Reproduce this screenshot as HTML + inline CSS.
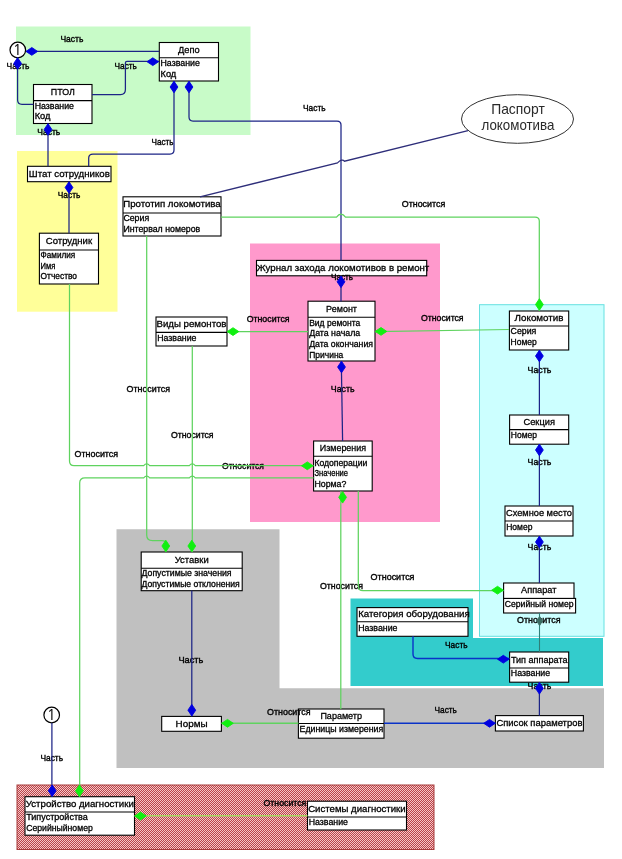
<!DOCTYPE html>
<html lang="ru">
<head>
<meta charset="utf-8">
<title>ER-диаграмма: паспорт локомотива</title>
<style>
html,body{margin:0;padding:0;background:#fff;}
body{width:622px;height:859px;overflow:hidden;}
svg{display:block;will-change:transform;}
svg text{font-family:"Liberation Sans", "DejaVu Sans", sans-serif;fill:#000;stroke:#000;stroke-width:0.3px;}
</style>
</head>
<body>
<svg width="622" height="859" viewBox="0 0 622 859">
<rect width="622" height="859" fill="#fff"/>
<g><defs><pattern id="hatch" width="2" height="2" patternUnits="userSpaceOnUse"><rect width="2" height="2" fill="#b9444a"/><rect x="0" y="0" width="1" height="1" fill="#f6c6c6"/><rect x="1" y="1" width="1" height="1" fill="#f6c6c6"/></pattern></defs>
<rect x="16" y="26.5" width="234.50" height="108.50" fill="#c8fbc8"/>
<rect x="17" y="151" width="100.50" height="160.70" fill="#ffff99"/>
<rect x="250" y="243.5" width="190.00" height="278.50" fill="#ff99cc"/>
<path d="M350.5 598.6H473V638H603V686H350.5Z" fill="#33cccc"/>
<path d="M116.5 529.2H279.5V688.3H604V768H116.5Z" fill="#c0c0c0"/>
<rect x="479.5" y="304.7" width="124.50" height="331.60" fill="#ccffff" stroke="#66e0e0" stroke-width="1"/>
<rect x="17" y="785" width="417.00" height="64.50" fill="url(#hatch)" stroke="#a83a3a" stroke-width="1"/></g>
<g><rect x="159.3" y="42.5" width="59.20" height="38.50" fill="#fff" stroke="#000" stroke-width="1.1"/>
<path d="M159.3 57.8H218.5" stroke="#000" stroke-width="1.1"/>
<text x="178.1" y="52.9" font-size="9.7" textLength="21.6" lengthAdjust="spacingAndGlyphs">Депо</text>
<text x="160.5" y="66.0" font-size="8.6" textLength="39.3" lengthAdjust="spacingAndGlyphs">Название</text>
<text x="160.5" y="76.6" font-size="8.6" textLength="15.8" lengthAdjust="spacingAndGlyphs">Код</text>
<rect x="33.5" y="84.5" width="58.50" height="39.00" fill="#fff" stroke="#000" stroke-width="1.1"/>
<path d="M33.5 100.6H92" stroke="#000" stroke-width="1.1"/>
<text x="50.8" y="95.2" font-size="9.7" textLength="24.0" lengthAdjust="spacingAndGlyphs">ПТОЛ</text>
<text x="34.7" y="108.8" font-size="8.6" textLength="39.3" lengthAdjust="spacingAndGlyphs">Название</text>
<text x="34.7" y="119.4" font-size="8.6" textLength="15.8" lengthAdjust="spacingAndGlyphs">Код</text>
<rect x="27.5" y="166.3" width="83.50" height="15.40" fill="#fff" stroke="#000" stroke-width="1.1"/>
<text x="28.8" y="176.7" font-size="9.7" textLength="81.0" lengthAdjust="spacingAndGlyphs">Штат сотрудников</text>
<rect x="39.4" y="233.2" width="59.10" height="50.80" fill="#fff" stroke="#000" stroke-width="1.1"/>
<path d="M39.4 250H98.5" stroke="#000" stroke-width="1.1"/>
<text x="45.8" y="244.3" font-size="9.7" textLength="46.3" lengthAdjust="spacingAndGlyphs">Сотрудник</text>
<text x="40.6" y="258.2" font-size="8.6" textLength="34.7" lengthAdjust="spacingAndGlyphs">Фамилия</text>
<text x="40.6" y="268.8" font-size="8.6" textLength="14.8" lengthAdjust="spacingAndGlyphs">Имя</text>
<text x="40.6" y="279.4" font-size="8.6" textLength="36.4" lengthAdjust="spacingAndGlyphs">Отчество</text>
<rect x="123" y="196.8" width="98.00" height="39.20" fill="#fff" stroke="#000" stroke-width="1.1"/>
<path d="M123 213H221" stroke="#000" stroke-width="1.1"/>
<text x="123.2" y="206.6" font-size="9.7" textLength="97.5" lengthAdjust="spacingAndGlyphs">Прототип локомотива</text>
<text x="123.4" y="221.2" font-size="8.6" textLength="25.8" lengthAdjust="spacingAndGlyphs">Серия</text>
<text x="123.4" y="231.8" font-size="8.6" textLength="76.8" lengthAdjust="spacingAndGlyphs">Интервал номеров</text>
<rect x="256.5" y="260.4" width="170.20" height="15.40" fill="#fff" stroke="#000" stroke-width="1.1"/>
<text x="256.8" y="270.8" font-size="9.7" textLength="172.5" lengthAdjust="spacingAndGlyphs">Журнал захода локомотивов в ремонт</text>
<rect x="308" y="301.2" width="67.00" height="59.80" fill="#fff" stroke="#000" stroke-width="1.1"/>
<path d="M308 317.2H375" stroke="#000" stroke-width="1.1"/>
<text x="326.1" y="311.5" font-size="9.7" textLength="30.9" lengthAdjust="spacingAndGlyphs">Ремонт</text>
<text x="309.2" y="325.8" font-size="8.6" textLength="51.0" lengthAdjust="spacingAndGlyphs">Вид ремонта</text>
<text x="309.2" y="336.4" font-size="8.6" textLength="51.0" lengthAdjust="spacingAndGlyphs">Дата начала</text>
<text x="309.2" y="347.0" font-size="8.6" textLength="63.8" lengthAdjust="spacingAndGlyphs">Дата окончания</text>
<text x="309.2" y="357.6" font-size="8.6" textLength="34.1" lengthAdjust="spacingAndGlyphs">Причина</text>
<rect x="156" y="317" width="71.00" height="29.00" fill="#fff" stroke="#000" stroke-width="1.1"/>
<path d="M156 332.4H227" stroke="#000" stroke-width="1.1"/>
<text x="156.5" y="327.4" font-size="9.7" textLength="70.0" lengthAdjust="spacingAndGlyphs">Виды ремонтов</text>
<text x="157.2" y="340.6" font-size="8.6" textLength="39.3" lengthAdjust="spacingAndGlyphs">Название</text>
<rect x="509.4" y="311" width="59.30" height="39.00" fill="#fff" stroke="#000" stroke-width="1.1"/>
<path d="M509.4 326H568.7" stroke="#000" stroke-width="1.1"/>
<text x="514.6" y="321.2" font-size="9.7" textLength="48.9" lengthAdjust="spacingAndGlyphs">Локомотив</text>
<text x="510.6" y="334.2" font-size="8.6" textLength="25.8" lengthAdjust="spacingAndGlyphs">Серия</text>
<text x="510.6" y="344.8" font-size="8.6" textLength="26.2" lengthAdjust="spacingAndGlyphs">Номер</text>
<rect x="509.6" y="415" width="59.10" height="29.20" fill="#fff" stroke="#000" stroke-width="1.1"/>
<path d="M509.6 429.6H568.7" stroke="#000" stroke-width="1.1"/>
<text x="523.5" y="425.0" font-size="9.7" textLength="31.4" lengthAdjust="spacingAndGlyphs">Секция</text>
<text x="510.8" y="438.4" font-size="8.6" textLength="26.2" lengthAdjust="spacingAndGlyphs">Номер</text>
<rect x="505" y="506" width="68.00" height="30.00" fill="#fff" stroke="#000" stroke-width="1.1"/>
<path d="M505 521H573" stroke="#000" stroke-width="1.1"/>
<text x="506.0" y="516.2" font-size="9.7" textLength="66.0" lengthAdjust="spacingAndGlyphs">Схемное место</text>
<text x="506.2" y="530.2" font-size="8.6" textLength="26.2" lengthAdjust="spacingAndGlyphs">Номер</text>
<rect x="503.6" y="598.4" width="72" height="14.6" fill="#fff" stroke="#000" stroke-width="1.1"/>
<rect x="503.6" y="583" width="70.40" height="15.40" fill="#fff" stroke="#000" stroke-width="1.1"/>
<text x="521.0" y="593.4" font-size="9.7" textLength="35.5" lengthAdjust="spacingAndGlyphs">Аппарат</text>
<text x="504.8" y="607.2" font-size="8.6" textLength="68.7" lengthAdjust="spacingAndGlyphs">Серийный номер</text>
<rect x="313.6" y="441" width="58.60" height="50.00" fill="#fff" stroke="#000" stroke-width="1.1"/>
<path d="M313.6 456.3H372.2" stroke="#000" stroke-width="1.1"/>
<text x="319.8" y="451.3" font-size="9.7" textLength="46.3" lengthAdjust="spacingAndGlyphs">Измерения</text>
<text x="314.4" y="465.5" font-size="8.6" textLength="53.0" lengthAdjust="spacingAndGlyphs">Кодоперации</text>
<text x="314.4" y="476.1" font-size="8.6" textLength="33.7" lengthAdjust="spacingAndGlyphs">Значение</text>
<text x="314.4" y="486.7" font-size="8.6" textLength="32.0" lengthAdjust="spacingAndGlyphs">Норма?</text>
<rect x="141.2" y="552" width="101.00" height="38.70" fill="#fff" stroke="#000" stroke-width="1.1"/>
<path d="M141.2 568.2H242.2" stroke="#000" stroke-width="1.1"/>
<text x="174.7" y="562.8" font-size="9.7" textLength="34.0" lengthAdjust="spacingAndGlyphs">Уставки</text>
<text x="141.5" y="576.4" font-size="8.6" textLength="90.1" lengthAdjust="spacingAndGlyphs">Допустимые значения</text>
<text x="141.5" y="587.0" font-size="8.6" textLength="98.2" lengthAdjust="spacingAndGlyphs">Допустимые отклонения</text>
<rect x="357" y="607.6" width="111.00" height="28.70" fill="#fff" stroke="#000" stroke-width="1.1"/>
<path d="M357 621.7H468" stroke="#000" stroke-width="1.1"/>
<text x="358.2" y="617.4" font-size="9.7" textLength="111.5" lengthAdjust="spacingAndGlyphs">Категория оборудования</text>
<text x="358.2" y="631.3" font-size="8.6" textLength="39.3" lengthAdjust="spacingAndGlyphs">Название</text>
<rect x="509.6" y="652" width="59.10" height="30.20" fill="#fff" stroke="#000" stroke-width="1.1"/>
<path d="M509.6 668H568.7" stroke="#000" stroke-width="1.1"/>
<text x="510.9" y="662.7" font-size="9.7" textLength="56.6" lengthAdjust="spacingAndGlyphs">Тип аппарата</text>
<text x="510.8" y="676.2" font-size="8.6" textLength="39.3" lengthAdjust="spacingAndGlyphs">Название</text>
<rect x="161.7" y="716.4" width="59.70" height="14.90" fill="#fff" stroke="#000" stroke-width="1.1"/>
<text x="175.6" y="726.5" font-size="9.7" textLength="32.0" lengthAdjust="spacingAndGlyphs">Нормы</text>
<rect x="298.4" y="709" width="85.60" height="29.20" fill="#fff" stroke="#000" stroke-width="1.1"/>
<path d="M298.4 723.5H384" stroke="#000" stroke-width="1.1"/>
<text x="320.4" y="719.0" font-size="9.7" textLength="41.6" lengthAdjust="spacingAndGlyphs">Параметр</text>
<text x="299.6" y="731.7" font-size="8.6" textLength="83.6" lengthAdjust="spacingAndGlyphs">Единицы измерения</text>
<rect x="495.4" y="715.6" width="88.00" height="15.40" fill="#fff" stroke="#000" stroke-width="1.1"/>
<text x="496.4" y="726.0" font-size="9.7" textLength="86.0" lengthAdjust="spacingAndGlyphs">Список параметров</text>
<rect x="25" y="796.7" width="109.50" height="38.50" fill="#fff" stroke="#000" stroke-width="1.1"/>
<path d="M25 812H134.5" stroke="#000" stroke-width="1.1"/>
<text x="25.8" y="807.1" font-size="9.7" textLength="108.0" lengthAdjust="spacingAndGlyphs">Устройство диагностики</text>
<text x="26.2" y="820.2" font-size="8.6" textLength="61.6" lengthAdjust="spacingAndGlyphs">Типустройства</text>
<text x="26.2" y="830.8" font-size="8.6" textLength="66.6" lengthAdjust="spacingAndGlyphs">Серийныйномер</text>
<rect x="307.5" y="801.2" width="99.00" height="28.80" fill="#fff" stroke="#000" stroke-width="1.1"/>
<path d="M307.5 817H406.5" stroke="#000" stroke-width="1.1"/>
<text x="308.2" y="811.8" font-size="9.7" textLength="97.5" lengthAdjust="spacingAndGlyphs">Системы диагностики</text>
<text x="308.7" y="825.2" font-size="8.6" textLength="39.3" lengthAdjust="spacingAndGlyphs">Название</text>
<ellipse cx="517.5" cy="119" rx="56" ry="24.3" fill="#fff" stroke="#333" stroke-width="1"/>
<text x="491.2" y="114.3" font-size="14.5" textLength="53.6" lengthAdjust="spacingAndGlyphs" style="fill:#2a2a2a;stroke:none">Паспорт</text>
<text x="481.5" y="130.4" font-size="14.5" textLength="72.9" lengthAdjust="spacingAndGlyphs" style="fill:#2a2a2a;stroke:none">локомотива</text>
<circle cx="17.8" cy="50" r="7.8" fill="#fff" stroke="#000" stroke-width="1.2"/>
<text x="17.4" y="54.6" font-size="14.5" text-anchor="middle" style="font-family:NanumGothic,'Liberation Sans',sans-serif;stroke-width:0.15px;fill:#000">1</text>
<circle cx="51.7" cy="715" r="7.8" fill="#fff" stroke="#000" stroke-width="1.2"/>
<text x="51.3" y="719.6" font-size="14.5" text-anchor="middle" style="font-family:NanumGothic,'Liberation Sans',sans-serif;stroke-width:0.15px;fill:#000">1</text></g>
<g><text x="60.4" y="41.9" font-size="9.9" font-weight="normal" style="stroke-width:0.4px" textLength="23.0" lengthAdjust="spacingAndGlyphs">Часть</text>
<text x="6.6" y="69.1" font-size="9.9" font-weight="normal" style="stroke-width:0.4px" textLength="22.9" lengthAdjust="spacingAndGlyphs">Часть</text>
<text x="114.5" y="68.9" font-size="9.9" font-weight="normal" style="stroke-width:0.4px" textLength="22.4" lengthAdjust="spacingAndGlyphs">Часть</text>
<text x="151.6" y="144.5" font-size="9.9" font-weight="normal" style="stroke-width:0.4px" textLength="22.0" lengthAdjust="spacingAndGlyphs">Часть</text>
<text x="303.0" y="110.9" font-size="9.9" font-weight="normal" style="stroke-width:0.4px" textLength="22.6" lengthAdjust="spacingAndGlyphs">Часть</text>
<text x="37.3" y="135.3" font-size="9.9" font-weight="normal" style="stroke-width:0.4px" textLength="23.0" lengthAdjust="spacingAndGlyphs">Часть</text>
<text x="57.8" y="197.7" font-size="9.9" font-weight="normal" style="stroke-width:0.4px" textLength="22.5" lengthAdjust="spacingAndGlyphs">Часть</text>
<text x="331.0" y="279.5" font-size="9.9" font-weight="normal" style="stroke-width:0.4px" textLength="22.1" lengthAdjust="spacingAndGlyphs">Часть</text>
<text x="330.8" y="391.9" font-size="9.9" font-weight="normal" style="stroke-width:0.4px" textLength="23.8" lengthAdjust="spacingAndGlyphs">Часть</text>
<text x="527.6" y="372.5" font-size="9.9" font-weight="normal" style="stroke-width:0.4px" textLength="23.7" lengthAdjust="spacingAndGlyphs">Часть</text>
<text x="527.6" y="465.3" font-size="9.9" font-weight="normal" style="stroke-width:0.4px" textLength="23.7" lengthAdjust="spacingAndGlyphs">Часть</text>
<text x="527.6" y="550.1" font-size="9.9" font-weight="normal" style="stroke-width:0.4px" textLength="23.7" lengthAdjust="spacingAndGlyphs">Часть</text>
<text x="527.6" y="689.1" font-size="9.9" font-weight="normal" style="stroke-width:0.4px" textLength="23.7" lengthAdjust="spacingAndGlyphs">Часть</text>
<text x="445.0" y="648.2" font-size="9.9" font-weight="normal" style="stroke-width:0.4px" textLength="22.6" lengthAdjust="spacingAndGlyphs">Часть</text>
<text x="434.5" y="713.3" font-size="9.9" font-weight="normal" style="stroke-width:0.4px" textLength="22.4" lengthAdjust="spacingAndGlyphs">Часть</text>
<text x="178.4" y="662.7" font-size="9.9" font-weight="normal" style="stroke-width:0.4px" textLength="25.0" lengthAdjust="spacingAndGlyphs">Часть</text>
<text x="40.4" y="761.0" font-size="9.9" font-weight="normal" style="stroke-width:0.4px" textLength="22.7" lengthAdjust="spacingAndGlyphs">Часть</text>
<text x="401.8" y="206.5" font-size="9.9" font-weight="normal" style="stroke-width:0.4px" textLength="43.4" lengthAdjust="spacingAndGlyphs">Относится</text>
<text x="126.5" y="391.9" font-size="9.9" font-weight="normal" style="stroke-width:0.4px" textLength="43.5" lengthAdjust="spacingAndGlyphs">Относится</text>
<text x="171.0" y="437.9" font-size="9.9" font-weight="normal" style="stroke-width:0.4px" textLength="42.6" lengthAdjust="spacingAndGlyphs">Относится</text>
<text x="246.7" y="321.5" font-size="9.9" font-weight="normal" style="stroke-width:0.4px" textLength="42.9" lengthAdjust="spacingAndGlyphs">Относится</text>
<text x="421.0" y="320.5" font-size="9.9" font-weight="normal" style="stroke-width:0.4px" textLength="42.6" lengthAdjust="spacingAndGlyphs">Относится</text>
<text x="74.6" y="456.5" font-size="9.9" font-weight="normal" style="stroke-width:0.4px" textLength="43.5" lengthAdjust="spacingAndGlyphs">Относится</text>
<text x="222.0" y="468.5" font-size="9.9" font-weight="normal" style="stroke-width:0.4px" textLength="42.0" lengthAdjust="spacingAndGlyphs">Относится</text>
<text x="320.0" y="589.1" font-size="9.9" font-weight="normal" style="stroke-width:0.4px" textLength="43.0" lengthAdjust="spacingAndGlyphs">Относится</text>
<text x="370.6" y="580.0" font-size="9.9" font-weight="normal" style="stroke-width:0.4px" textLength="43.9" lengthAdjust="spacingAndGlyphs">Относится</text>
<text x="517.0" y="622.5" font-size="9.9" font-weight="normal" style="stroke-width:0.4px" textLength="43.6" lengthAdjust="spacingAndGlyphs">Относится</text>
<text x="267.0" y="714.5" font-size="9.9" font-weight="normal" style="stroke-width:0.4px" textLength="43.6" lengthAdjust="spacingAndGlyphs">Относится</text>
<text x="263.5" y="805.7" font-size="9.9" font-weight="normal" style="stroke-width:0.4px" textLength="42.8" lengthAdjust="spacingAndGlyphs">Относится</text></g>
<g><path d="M26 51.4H159" fill="none" stroke="#1c2486" stroke-width="1.25"/>
<path d="M17.6 58V100Q17.6 104.3 22 104.3H33.5" fill="none" stroke="#1c2486" stroke-width="1.25"/>
<path d="M92 94.6H120.5Q125.4 94.6 125.4 89.5V63Q125.4 61.4 127 61.4H159" fill="none" stroke="#1c2486" stroke-width="1.25"/>
<path d="M174 81V150Q174 154 170 154H93Q88.7 154 88.7 158V166.3" fill="none" stroke="#1c2486" stroke-width="1.25"/>
<path d="M189 81V117Q189 121 193 121H337Q341 121 341 125V260.4" fill="none" stroke="#1c2486" stroke-width="1.25"/>
<path d="M48 123.5V166.3" fill="none" stroke="#1c2486" stroke-width="1.25"/>
<path d="M69 181.7V233.2" fill="none" stroke="#1c2486" stroke-width="1.25"/>
<path d="M341 275.8V301.5" fill="none" stroke="#1c2486" stroke-width="1.25"/>
<path d="M341.3 361L342.6 441" fill="none" stroke="#1c2486" stroke-width="1.25"/>
<path d="M539.4 350V415" fill="none" stroke="#1c2486" stroke-width="1.25"/>
<path d="M539.4 444V506" fill="none" stroke="#1c2486" stroke-width="1.25"/>
<path d="M539.4 536V583" fill="none" stroke="#1c2486" stroke-width="1.25"/>
<path d="M539.4 682V715.6" fill="none" stroke="#1c2486" stroke-width="1.25"/>
<path d="M413 636.3V654Q413 658.5 417.5 658.5H509.6" fill="none" stroke="#0a32c8" stroke-width="1.4"/>
<path d="M384 723.2H495.4" fill="none" stroke="#0a32c8" stroke-width="1.4"/>
<path d="M191.8 590.5V716.4" fill="none" stroke="#1c2486" stroke-width="1.25"/>
<path d="M51.9 723V796.7" fill="none" stroke="#1c2486" stroke-width="1.25"/>
<path d="M200 196.8L337.5 162.9q4.5 -4.5 7 -1.7L468 130.7" fill="none" stroke="#2e2e7a" stroke-width="1.3"/>
<path d="M221 217H336.5Q341 211 345.5 217H535Q539.3 217 539.3 221V311" fill="none" stroke="#5fd35f" stroke-width="1.25"/>
<path d="M146.7 236V535Q146.7 540.6 152.5 540.6H162Q165.8 540.6 165.8 543V552" fill="none" stroke="#5fd35f" stroke-width="1.25"/>
<path d="M192.3 346V552" fill="none" stroke="#5fd35f" stroke-width="1.25"/>
<path d="M227 331.6H308" fill="none" stroke="#5fd35f" stroke-width="1.25"/>
<path d="M375 331.6L509 329.5" fill="none" stroke="#5fd35f" stroke-width="1.25"/>
<path d="M69.5 284V461Q69.5 465.6 74 465.6H143.7q3 -3.4 6 0H189.3q3 -3.4 6 0H313.6" fill="none" stroke="#5fd35f" stroke-width="1.25"/>
<path d="M313.6 477.8H195.3q-3 -3.4 -6 0H149.7q-3 -3.4 -6 0H85Q79.7 477.8 79.7 483V796.7" fill="none" stroke="#5fd35f" stroke-width="1.25"/>
<path d="M340.8 491V709" fill="none" stroke="#5fd35f" stroke-width="1.25"/>
<path d="M358.3 491V586Q358.3 590.6 363 590.6H503.6" fill="none" stroke="#5fd35f" stroke-width="1.25"/>
<path d="M539.5 613V652" fill="none" stroke="#2f7f78" stroke-width="1.1"/>
<path d="M221.4 723.2H298.4" fill="none" stroke="#5fd35f" stroke-width="1.6"/>
<path d="M134.5 815.8H307.5" fill="none" stroke="#a8d860" stroke-width="1.4"/></g>
<g><polygon points="26.0,51.4 31.8,47.5 37.6,51.4 31.8,55.3" fill="#0000e0" stroke="#0000e0" stroke-width="0.9" stroke-linejoin="round"/>
<polygon points="17.6,57.7 21.5,63.5 17.6,69.3 13.7,63.5" fill="#0000e0" stroke="#0000e0" stroke-width="0.9" stroke-linejoin="round"/>
<polygon points="147.0,61.7 152.8,57.8 158.6,61.7 152.8,65.6" fill="#0000e0" stroke="#0000e0" stroke-width="0.9" stroke-linejoin="round"/>
<polygon points="174.0,81.2 177.9,87.0 174.0,92.8 170.1,87.0" fill="#0000e0" stroke="#0000e0" stroke-width="0.9" stroke-linejoin="round"/>
<polygon points="189.0,81.2 192.9,87.0 189.0,92.8 185.1,87.0" fill="#0000e0" stroke="#0000e0" stroke-width="0.9" stroke-linejoin="round"/>
<polygon points="48.0,123.7 51.9,129.5 48.0,135.3 44.1,129.5" fill="#0000e0" stroke="#0000e0" stroke-width="0.9" stroke-linejoin="round"/>
<polygon points="69.0,181.7 72.9,187.5 69.0,193.3 65.1,187.5" fill="#0000e0" stroke="#0000e0" stroke-width="0.9" stroke-linejoin="round"/>
<polygon points="341.0,276.0 344.9,281.8 341.0,287.6 337.1,281.8" fill="#0000e0" stroke="#0000e0" stroke-width="0.9" stroke-linejoin="round"/>
<polygon points="341.5,361.2 345.4,367.0 341.5,372.8 337.6,367.0" fill="#0000e0" stroke="#0000e0" stroke-width="0.9" stroke-linejoin="round"/>
<polygon points="539.4,350.2 543.3,356.0 539.4,361.8 535.5,356.0" fill="#0000e0" stroke="#0000e0" stroke-width="0.9" stroke-linejoin="round"/>
<polygon points="539.4,444.2 543.3,450.0 539.4,455.8 535.5,450.0" fill="#0000e0" stroke="#0000e0" stroke-width="0.9" stroke-linejoin="round"/>
<polygon points="539.4,536.2 543.3,542.0 539.4,547.8 535.5,542.0" fill="#0000e0" stroke="#0000e0" stroke-width="0.9" stroke-linejoin="round"/>
<polygon points="539.4,682.5 543.3,688.3 539.4,694.1 535.5,688.3" fill="#0000e0" stroke="#0000e0" stroke-width="0.9" stroke-linejoin="round"/>
<polygon points="497.5,659.2 503.3,655.3 509.1,659.2 503.3,663.1" fill="#0000e0" stroke="#0000e0" stroke-width="0.9" stroke-linejoin="round"/>
<polygon points="483.7,723.3 489.5,719.4 495.3,723.3 489.5,727.2" fill="#0000e0" stroke="#0000e0" stroke-width="0.9" stroke-linejoin="round"/>
<polygon points="191.8,704.4 195.7,710.2 191.8,716.0 187.9,710.2" fill="#0000e0" stroke="#0000e0" stroke-width="0.9" stroke-linejoin="round"/>
<polygon points="52.2,785.0 56.1,790.8 52.2,796.6 48.3,790.8" fill="#0000e0" stroke="#0000e0" stroke-width="0.9" stroke-linejoin="round"/>
<polygon points="539.4,298.7 543.3,304.5 539.4,310.3 535.5,304.5" fill="#10f010" stroke="#10f010" stroke-width="0.9" stroke-linejoin="round"/>
<polygon points="165.8,540.2 169.7,546.0 165.8,551.8 161.9,546.0" fill="#10f010" stroke="#10f010" stroke-width="0.9" stroke-linejoin="round"/>
<polygon points="191.8,540.2 195.7,546.0 191.8,551.8 187.9,546.0" fill="#10f010" stroke="#10f010" stroke-width="0.9" stroke-linejoin="round"/>
<polygon points="227.2,331.6 233.0,327.7 238.8,331.6 233.0,335.5" fill="#10f010" stroke="#10f010" stroke-width="0.9" stroke-linejoin="round"/>
<polygon points="375.2,331.4 381.0,327.5 386.8,331.4 381.0,335.3" fill="#10f010" stroke="#10f010" stroke-width="0.9" stroke-linejoin="round"/>
<polygon points="301.5,465.8 307.3,461.9 313.1,465.8 307.3,469.7" fill="#10f010" stroke="#10f010" stroke-width="0.9" stroke-linejoin="round"/>
<polygon points="342.6,491.5 346.5,497.3 342.6,503.1 338.7,497.3" fill="#10f010" stroke="#10f010" stroke-width="0.9" stroke-linejoin="round"/>
<polygon points="491.7,590.2 497.5,586.3 503.3,590.2 497.5,594.1" fill="#10f010" stroke="#10f010" stroke-width="0.9" stroke-linejoin="round"/>
<polygon points="221.7,723.3 227.5,719.4 233.3,723.3 227.5,727.2" fill="#10f010" stroke="#10f010" stroke-width="0.9" stroke-linejoin="round"/>
<polygon points="79.4,785.0 83.3,790.8 79.4,796.6 75.5,790.8" fill="#10f010" stroke="#10f010" stroke-width="0.9" stroke-linejoin="round"/>
<polygon points="134.7,816.0 140.5,812.1 146.3,816.0 140.5,819.9" fill="#10f010" stroke="#10f010" stroke-width="0.9" stroke-linejoin="round"/>
<polygon points="539.6,616.3 542.4,621.0 539.6,625.7 536.8,621.0" fill="#3c6e64" stroke="#3c6e64" stroke-width="0.9" stroke-linejoin="round"/></g>
</svg>
</body>
</html>
